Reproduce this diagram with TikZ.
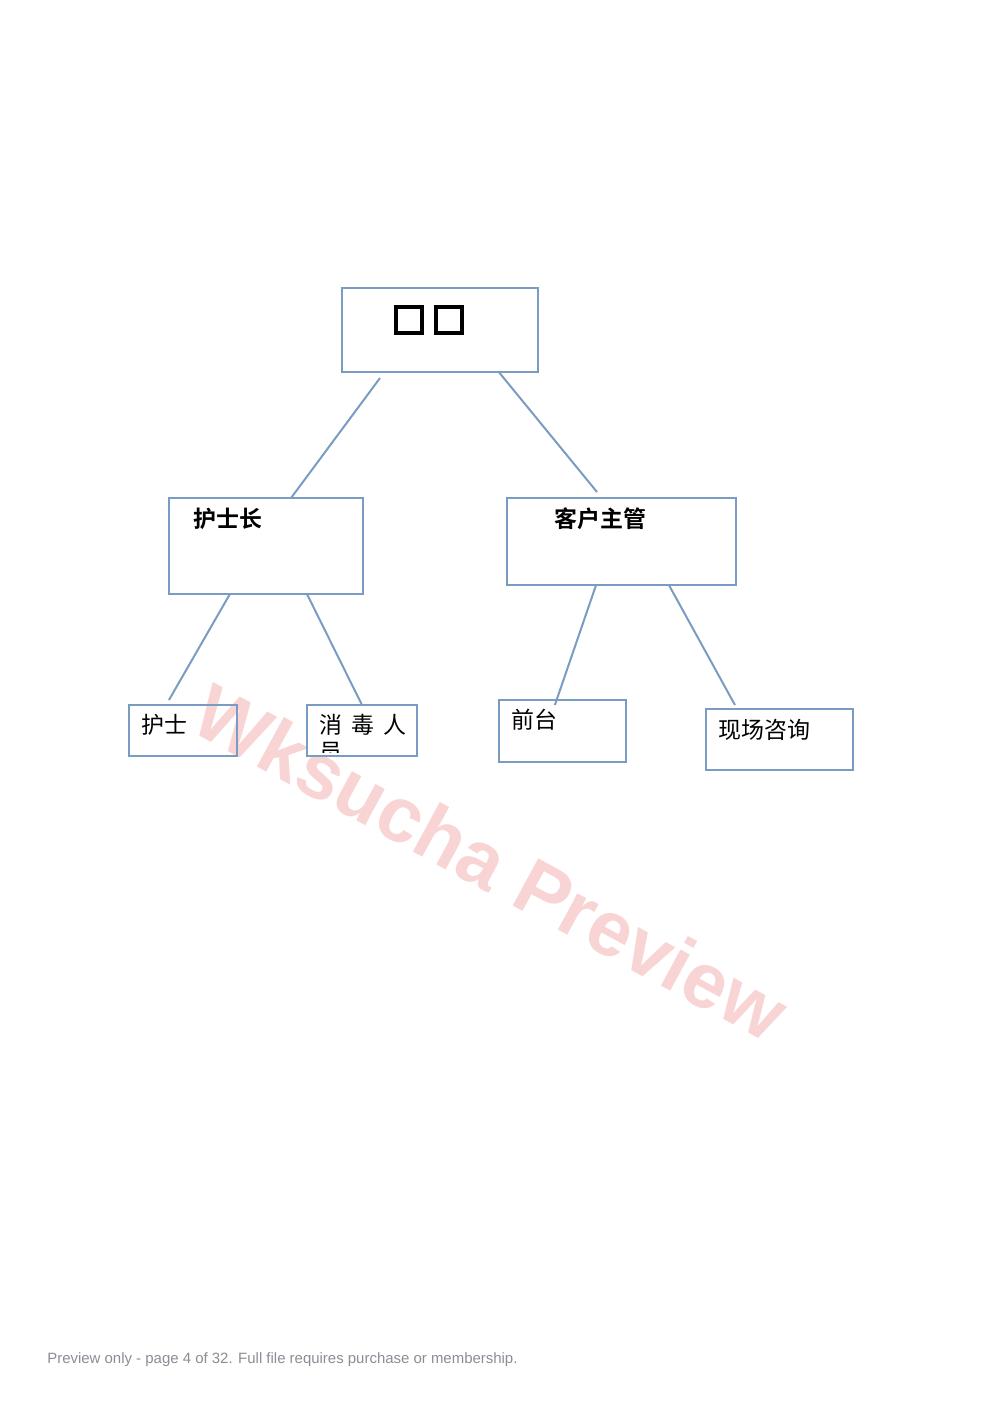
\documentclass[tikz,border=0pt]{standalone}
\usepackage{fontspec}
\setmainfont{Liberation Sans}
\newfontfamily\cjk{Noto Sans CJK SC}[BoldFont={Noto Sans CJK SC Bold}]
\usetikzlibrary{calc}
\definecolor{boxblue}{HTML}{7A9CC2}
\definecolor{wmpink}{HTML}{F9D4D4}
\definecolor{footgray}{HTML}{8C8C96}
\newlength\pxu
\setlength\pxu{0.2115mm}

\begin{document}
\begin{tikzpicture}[x=\pxu,y=-\pxu,
    box/.style={draw=boxblue, line width=2\pxu, inner sep=0pt, outer sep=0pt},
    link/.style={draw=boxblue, line width=2\pxu},
    cjktext/.style={anchor=west, inner sep=0pt, font=\cjk\fontsize{13.8pt}{16pt}\selectfont},
    tofu/.style={draw=black, line width=4\pxu, minimum size=26\pxu, inner sep=0pt}]

    \useasboundingbox (0,0) rectangle (993,1404);

    % watermark
    \node[rotate=-28.5, text=wmpink, inner sep=0pt,
        font=\bfseries\fontsize{47pt}{47pt}\selectfont] (watermark) at (491,862) {Wksucha Preview};

    % boxes
    \draw (440,330) 
		node[box, minimum width=196\pxu, minimum height=84\pxu] 
			(boss) {};
    \node[tofu] (tofu1) at (409,320) {};
    \node[tofu] (tofu2) at (449,320) {};

    \draw (266,546) 
		node[box, minimum width=194\pxu, minimum height=96\pxu] 
			(head nurse) {};
    \node[cjktext, font=\cjk\bfseries\fontsize{13.8pt}{16pt}\selectfont] (head nurse text) at (193,518.5) {护士长};

    \draw (621.5,541.5) 
		node[box, minimum width=229\pxu, minimum height=87\pxu] 
			(account manager) {};
    \node[cjktext, font=\cjk\bfseries\fontsize{13.8pt}{16pt}\selectfont] (account manager text) at (554,518.5) {客户主管};

    \draw (183,730.5) 
		node[box, minimum width=108\pxu, minimum height=51\pxu] 
			(nurse) {};
    \node[cjktext] (nurse text) at (141,725) {护士};

    \draw (362,730.5) 
		node[box, minimum width=110\pxu, minimum height=51\pxu] 
			(disinfector) {};
    \node[cjktext] (disinfector text) at (319,725) {消\hspace{9\pxu}毒\hspace{9\pxu}人};
    \begin{scope}
        \clip ($(disinfector.south west)+(0,-4)$) rectangle (disinfector.north east);
        \node[cjktext] (disinfector wrap) at (319,752) {员};
    \end{scope}

    \draw (562.5,731) 
		node[box, minimum width=127\pxu, minimum height=62\pxu] 
			(front desk) {};
    \node[cjktext] (front desk text) at (511,720) {前台};

    \draw (779.5,739.5) 
		node[box, minimum width=147\pxu, minimum height=61\pxu] 
			(consulting) {};
    \node[cjktext] (consulting text) at (718,729.5) {现场咨询};

    % connectors
	\draw[link] ($(boss.south west)!.194!(boss.south east)+(0,6)$) 
		-- ($(head nurse.north west)!.629!(head nurse.north east)$);
	\draw[link] ($(boss.south west)!.80!(boss.south east)$) 
		-- ($(account manager.north west)!.393!(account manager.north east)+(0,-6)$);

	\draw[link] ($(head nurse.south west)!.314!(head nurse.south east)$) 
		-- ($(nurse.north west)!.37!(nurse.north east)+(0,-5)$);
	\draw[link] ($(head nurse.south west)!.711!(head nurse.south east)$) 
		-- ($(disinfector.north west)!.5!(disinfector.north east)$);

	\draw[link] ($(account manager.south west)!.389!(account manager.south east)$) 
		-- ($(front desk.north west)!.44!(front desk.north east)+(0,5)$);
	\draw[link] ($(account manager.south west)!.707!(account manager.south east)$) 
		-- ($(consulting.north west)!.197!(consulting.north east)+(0,-4)$);

    % footer
    \node[anchor=base west, inner sep=0pt, text=footgray,
        font=\fontsize{9pt}{11pt}\selectfont] (footer) at (47,1363)
        {Preview only - page 4 of 32. Full file requires purchase or membership.};

\end{tikzpicture}
\end{document}
